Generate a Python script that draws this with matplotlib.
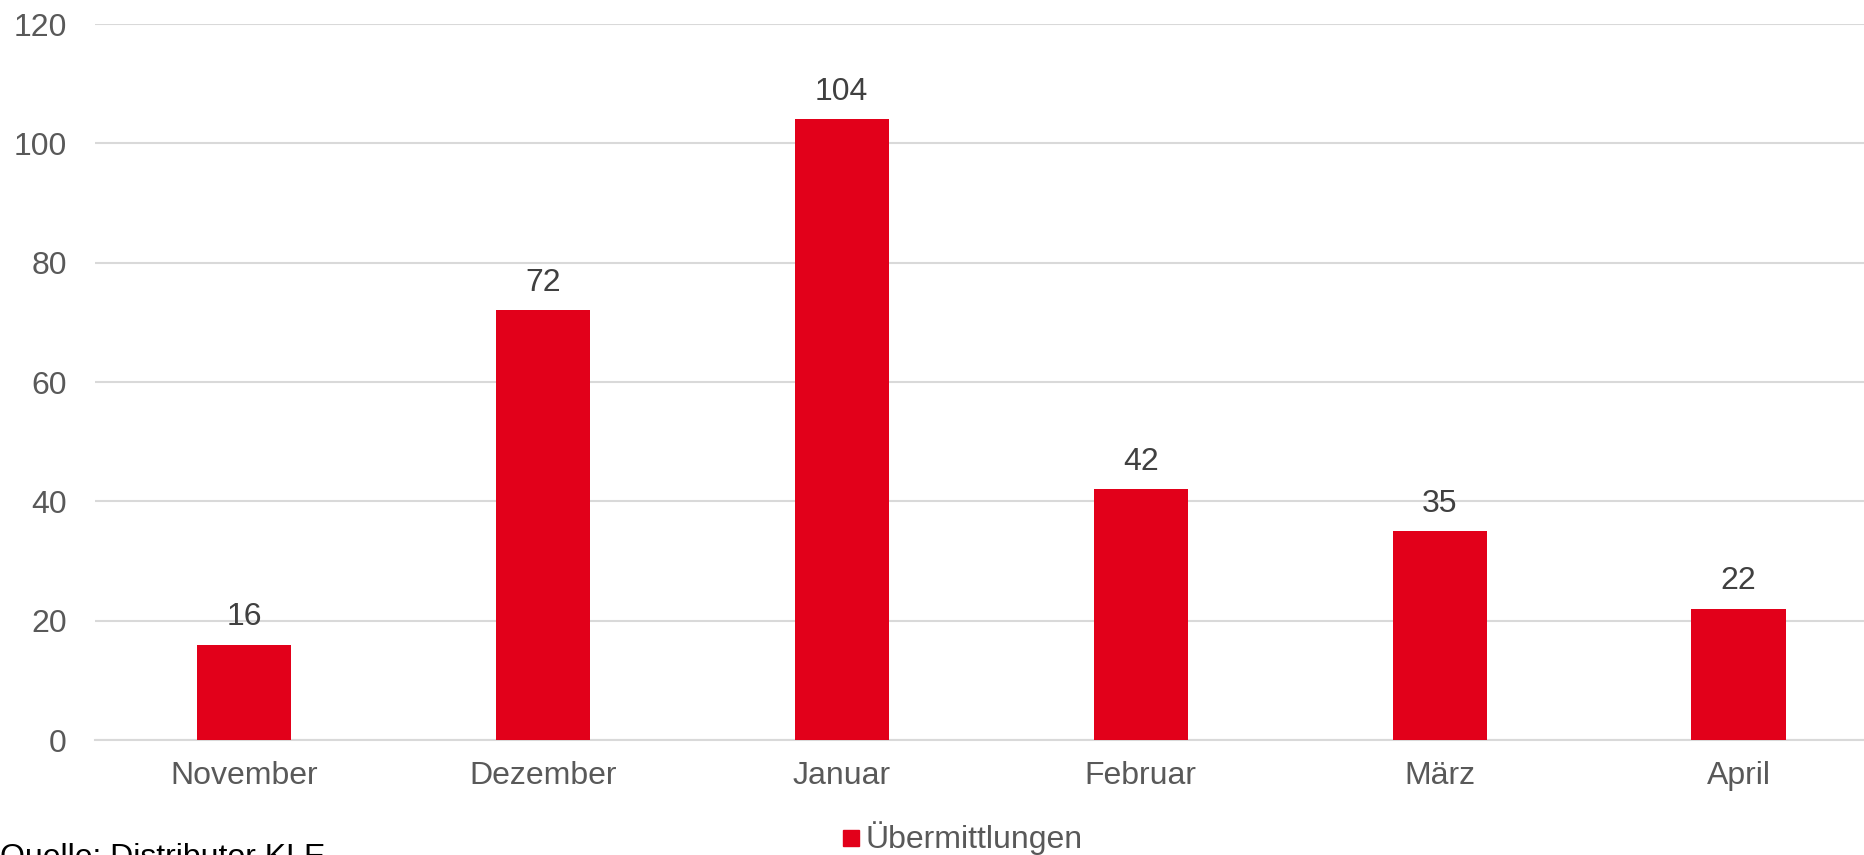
import matplotlib
matplotlib.use("Agg")
from matplotlib import pyplot as plt
from matplotlib.patches import Rectangle

plt.rcParams['font.family'] = ['Liberation Sans', 'DejaVu Sans']

# data
months = ["November", "Dezember", "Januar", "Februar", "März", "April"]
counts = [16, 72, 104, 42, 35, 22]
series_name = "Übermittlungen"
y_ticks = [0, 20, 40, 60, 80, 100, 120]
source = "Quelle: Distributor KLE"

bar_color = "#E2001A"
grid_color = "#D9D9D9"
tick_color = "#595959"
label_color = "#404040"
fs = 23

W, H = 1865, 855
fig = plt.figure(figsize=(W / 100, H / 100), dpi=100)

# plot area runs past the right edge like in the reference
left, right = 94.5 / W, 1888 / W
top, bottom = 1 - 24 / H, 1 - 740 / H
ax = fig.add_axes([left, bottom, right - left, top - bottom])

x = list(range(len(months)))
ax.bar(x, counts, width=0.315, color=bar_color, zorder=3)

for xi, v in zip(x, counts):
    ax.annotate(str(v), (xi, v), xytext=(0, 14), textcoords="offset points",
                ha="center", va="baseline", fontsize=fs, color=label_color)

ax.set_xlim(-0.5, len(months) - 0.5)
ax.set_ylim(0, 120)
ax.set_yticks(y_ticks)
ax.set_xticks(x)
ax.set_xticklabels(months)
ax.yaxis.grid(True, color=grid_color, linewidth=1.5, zorder=0)
ax.set_axisbelow(True)

for s in ["top", "right", "left"]:
    ax.spines[s].set_visible(False)
ax.spines["bottom"].set_color(grid_color)
ax.spines["bottom"].set_linewidth(1.5)
ax.tick_params(axis="both", length=0, labelsize=fs, colors=tick_color)
ax.tick_params(axis="y", pad=20)
ax.tick_params(axis="x", pad=15)

# legend drawn by hand below the axis
fig.patches.append(Rectangle((843 / W, 1 - 846 / H), 16 / W, 16 / H,
                             transform=fig.transFigure, color=bar_color))
fig.text(866 / W, 1 - 838 / H, series_name, fontsize=fs, color=tick_color,
         va="center", ha="left")

# source line, cut off at the bottom edge
fig.text(0, 1 - 843 / H, source, fontsize=fs, color="black",
         va="top", ha="left")

fig.savefig("out.png", dpi=100)
